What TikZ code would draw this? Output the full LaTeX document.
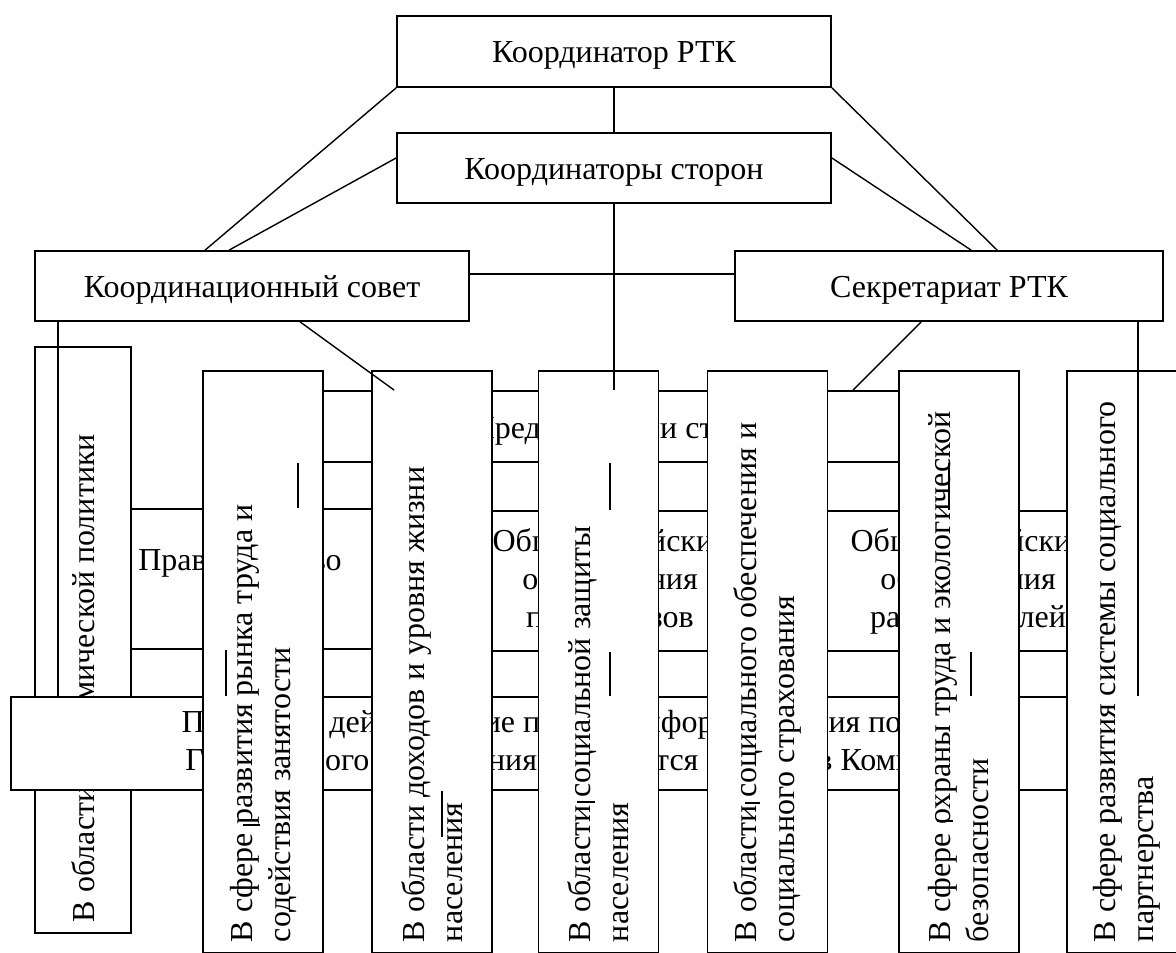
\documentclass[tikz,border=0pt]{standalone}
\usepackage{fontspec}
\setmainfont{Liberation Serif}
\usetikzlibrary{calc}
\begin{document}
\begin{tikzpicture}[x=0.5pt,y=-0.5pt,
  every node/.style={font=\fontsize{16}{19}\selectfont},
  box/.style={draw,line width=0.9pt,fill=white,inner sep=0pt,align=center},
  oneline/.style={text height=11.5pt,text depth=0pt},
  com/.style={box,rotate=90,align=left,inner xsep=5.5pt,text width=280pt,minimum width=291pt,minimum height=60pt,
    execute at begin node={\spaceskip=0pt\xspaceskip=0pt}},
  link/.style={line width=0.7pt}]
% Page is 1176 x 952 px, one unit is one px
\useasboundingbox (0,0) rectangle (1176,952);
\clip (0,0) rectangle (1176,952);
% Top of the structure
\node [box,oneline,minimum width=217pt,minimum height=35.5pt] (coord) at (614,51.5) {Координатор РТК};
\node [box,oneline,minimum width=217pt,minimum height=35pt] (sides) at (614,168) {Координаторы сторон};
\node [box,oneline,minimum width=217pt,minimum height=35pt] (council) at (252,286) {Координационный совет};
\node [box,oneline,minimum width=214pt,minimum height=35pt] (secr) at (949,286) {Секретариат РТК};
% Boxes lying behind the committees
\node [box,oneline,minimum width=340pt,minimum height=35.5pt] (reps) at (625,426.5) {Представители сторон};
\node [box,text height=11pt,text depth=20pt,minimum width=185pt,minimum height=70pt] (gov) at (240,579) {Правительство};
\node [box,minimum width=185pt,minimum height=70pt] (unions) at (610,581) {Общероссийские\\объединения\\профсоюзов};
\node [box,minimum width=173pt,minimum height=70pt] (employers) at (968,581) {Общероссийские\\объединения\\работодателей};
% First committee is covered by the order box
\node [com,minimum width=293pt,text width=282pt,minimum height=48pt] (com1) at (83,640) {В области экономической политики};
\node [box,minimum width=587pt,minimum height=46.5pt] (order) at (598,743.5)
  {Правила о действующие правил информирования по разделу\\Генерального соглашения проводятся обычно в Комиссиями};
% Committees
\node [com] (com2) at (263,662) {В сфере развития рынка труда и\\содействия занятости};
\node [com] (com3) at (432,662) {В области доходов и уровня жизни\\населения};
\node [com] (com4) at (598.5,662) {В области социальной защиты\\населения};
\node [com] (com5) at (767.5,662) {В области социального обеспечения и\\социального страхования};
\node [com] (com6) at (959,662) {В сфере охраны труда и экологической\\безопасности};
\node [com] (com7) at (1127,662) {В сфере развития системы социального\\партнерства};
% Links between the top boxes
\draw [link] (coord.south) -- (sides.north);
\draw [link] (coord.south west) -- ([xshift=85.5pt]council.north west);
\draw [link] (coord.south east) -- ([xshift=131.5pt]secr.north west);
\draw [link] ([yshift=5pt]sides.west) -- ([xshift=97.5pt]council.north west);
\draw [link] ([yshift=5pt]sides.east) -- ([xshift=118.5pt]secr.north west);
\draw [link] ([yshift=6pt]council.east) -- ([yshift=6pt]secr.west);
% Links going down
\draw [link] (sides.south) -- (sides.south |- reps.north);
\draw [link] ([xshift=12pt]council.south west) -- ([xshift=12pt]council.south west |- order.north);
\draw [link] ([xshift=133pt]council.south west) -- ([xshift=55pt]reps.north west);
\draw [link] ([xshift=93.5pt]secr.south west) -- ([xshift=-56.5pt]reps.north east);
\draw [link] ([xshift=202pt]secr.south west) -- ([xshift=202pt]secr.south west |- order.north);
% Pieces left over between the rows
\draw [link] ([xshift=7pt]reps.south west) -- ([xshift=7pt]reps.south west |- gov.north);
\draw [link] ([xshift=163pt]reps.south west) -- ([xshift=163pt]reps.south west |- unions.north);
\draw [link] ([xshift=332.5pt]reps.south west) -- ([xshift=332.5pt]reps.south west |- employers.north);
\draw [link] ([xshift=86pt]gov.south west) -- ([xshift=86pt]gov.south west |- order.north);
\draw [link] ([xshift=93pt]unions.south west) -- ([xshift=93pt]unions.south west |- order.north);
\draw [link] ([xshift=88.5pt]employers.south west) -- ([xshift=88.5pt]employers.south west |- order.north);
\draw [link] ([xshift=216pt]order.south west) -- ++(0,46);
% Short strokes over the committee texts
\draw [link] (243,825) -- (260,825);
\draw [link] (577,802) -- (595,802);
\draw [link] (745,803) -- (760,803);
\draw [link] (937,821) -- (953,821);
\draw [link] (1105,821) -- (1120,821);
\end{tikzpicture}
\end{document}
